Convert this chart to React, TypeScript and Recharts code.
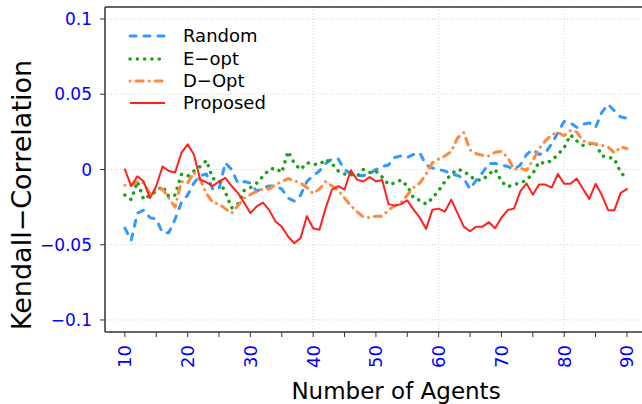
import { LineChart, Line, XAxis, YAxis, CartesianGrid, Legend, ReferenceLine, Label } from "recharts";

// number of agents (x) and the four correlation curves
const AGENTS = [
  10, 11, 12, 13, 14, 15, 16, 17, 18, 19,
  20, 21, 22, 23, 24, 25, 26, 27, 28, 29,
  30, 31, 32, 33, 34, 35, 36, 37, 38, 39,
  40, 41, 42, 43, 44, 45, 46, 47, 48, 49,
  50, 51, 52, 53, 54, 55, 56, 57, 58, 59,
  60, 61, 62, 63, 64, 65, 66, 67, 68, 69,
  70, 71, 72, 73, 74, 75, 76, 77, 78, 79,
  80, 81, 82, 83, 84, 85, 86, 87, 88, 89, 90,
];

const RANDOM = [
  -0.039, -0.047, -0.029, -0.027, -0.032, -0.033, -0.042, -0.042, -0.033, -0.022,
  -0.017, -0.009, -0.004, -0.003, -0.013, -0.013, 0.0045, 0, -0.009, -0.008,
  -0.009, -0.0145, -0.012, -0.011, -0.011, -0.013, -0.019, -0.021, -0.017, -0.008,
  -0.004, -0.001, 0.004, 0.007, 0.007, 0, -0.003, -0.004, -0.004, -0.003,
  0, 0.002, 0.003, 0.008, 0.009, 0.008, 0.01, 0.011, 0.003, 0.001,
  0, -0.001, -0.003, -0.004, -0.006, -0.013, -0.007, -0.002, 0.004, 0.004,
  0.003, 0.002, 0, 0.003, 0.01, 0.0133, 0.01, 0.011, 0.017, 0.0245,
  0.032, 0.031, 0.028, 0.03, 0.031, 0.028, 0.038, 0.0433, 0.039, 0.035, 0.034,
];

const E_OPT = [
  -0.017, -0.02, -0.008, -0.02, -0.017, -0.0145, -0.011, -0.018, -0.017, -0.0033,
  -0.0045, -0.001, 0.002, 0.006, -0.006, -0.007, -0.015, -0.0255, -0.023, -0.014,
  -0.012, -0.009, -0.0045, 0, 0.001, -0.002, 0.012, 0.004, 0, 0.0045,
  0.0035, 0.0033, 0.0067, 0.004, -0.001, -0.003, -0.0033, -0.0045, 0, -0.002,
  -0.001, -0.005, -0.01, -0.009, -0.007, -0.011, -0.019, -0.0205, -0.023, -0.019,
  -0.014, -0.008, -0.003, 0, -0.001, -0.0045, -0.007, -0.007, -0.003, 0,
  -0.008, -0.0115, -0.01, -0.009, -0.007, -0.0027, 0.005, 0.004, 0.006, 0.01,
  0.0145, 0.023, 0.019, 0.016, 0.017, 0.0178, 0.009, 0.0082, 0.0071, -0.002, -0.006,
];

const D_OPT = [
  -0.0105, -0.0105, -0.008, -0.009, -0.016, -0.013, -0.013, -0.019, -0.025, -0.008,
  -0.009, -0.002, -0.0067, -0.016, -0.022, -0.023, -0.026, -0.029, -0.024, -0.019,
  -0.0167, -0.0145, -0.013, -0.013, -0.01, -0.008, -0.006, -0.0075, -0.009, -0.012,
  -0.016, -0.013, -0.008, -0.011, -0.014, -0.019, -0.024, -0.028, -0.0315, -0.032,
  -0.031, -0.031, -0.027, -0.024, -0.022, -0.017, -0.012, -0.009, -0.003, 0.0045,
  0.007, 0.009, 0.012, 0.021, 0.0245, 0.013, 0.0105, 0.0095, 0.009, 0.0115,
  0.012, 0.008, 0, 0.001, -0.0005, 0.006, 0.014, 0.019, 0.0233, 0.0245,
  0.0225, 0.026, 0.025, 0.019, 0.0178, 0.017, 0.016, 0.015, 0.011, 0.015, 0.014,
];

const PROPOSED = [
  0, -0.011, -0.0045, -0.008, -0.019, -0.011, 0.002, -0.001, -0.002, 0.011,
  0.0167, 0.01, -0.0067, -0.0085, -0.011, -0.008, -0.0055, -0.011, -0.0155, -0.022,
  -0.029, -0.0245, -0.022, -0.027, -0.0345, -0.038, -0.0445, -0.049, -0.0455, -0.031,
  -0.039, -0.04, -0.0255, -0.0133, -0.011, -0.0133, -0.0005, -0.0067, -0.008, -0.005,
  -0.008, -0.007, -0.023, -0.024, -0.023, -0.0205, -0.0267, -0.032, -0.0395, -0.0267,
  -0.026, -0.028, -0.02, -0.029, -0.038, -0.041, -0.038, -0.038, -0.035, -0.039,
  -0.032, -0.027, -0.026, -0.0145, -0.0093, -0.0167, -0.01, -0.01, -0.012, -0.003,
  -0.0095, -0.0095, -0.006, -0.013, -0.0195, -0.0095, -0.017, -0.027, -0.027, -0.0155, -0.013,
];

const SERIES_NAMES = ["Random", "E\u2212opt", "D\u2212Opt", "Proposed"];
const X_TICKS = [10, 15, 20, 25, 30, 35, 40, 45, 50, 55, 60, 65, 70, 75, 80, 85, 90];
const Y_TICKS = [-0.1, -0.05, 0, 0.05, 0.1];
const X_GRID = [40, 60, 80];

const FONT = '"DejaVu Sans", sans-serif';
const TICK_BLUE = "#0000ff";
const AXIS = "#333";
const GRID = "#d4d4d4";

const SERIES = [
  { key: "random", color: "#3399ff", width: 3, dash: "6 8" },
  { key: "eopt", color: "#1ea01e", width: 3.5, dash: "0.1 7.2" },
  { key: "dopt", color: "#ff8a3d", width: 3, dash: "0.1 6 7 6" },
  { key: "proposed", color: "#ff2020", width: 2, dash: undefined as string | undefined },
];

const chartData = AGENTS.map((n, i) => ({
  agents: n,
  random: RANDOM[i],
  eopt: E_OPT[i],
  dopt: D_OPT[i],
  proposed: PROPOSED[i],
}));

const fmtY = (v: number) => (v === 0 ? "0" : v < 0 ? "\u2212" + String(-v) : String(v));

const AgentTick = (props: any) => {
  const { x, y, payload } = props;
  if (payload.value % 10 !== 0) return <g />;
  return (
    <text
      x={x}
      y={y}
      transform={`rotate(-90 ${x} ${y})`}
      textAnchor="end"
      dy="0.36em"
      fill={TICK_BLUE}
      fontSize={18}
      fontFamily={FONT}
    >
      {payload.value}
    </text>
  );
};

const renderLegend = () => (
  <div style={{ fontFamily: FONT, fontSize: 18, color: "#000" }}>
    {SERIES.map((s, i) => (
      <div key={s.key} style={{ display: "flex", alignItems: "center", height: 22.4 }}>
        <svg width={44} height={10} style={{ display: "block" }}>
          <line
            x1={5}
            y1={5}
            x2={40}
            y2={5}
            stroke={s.color}
            strokeWidth={s.width}
            strokeDasharray={s.dash}
            strokeLinecap={s.dash ? "round" : "butt"}
          />
        </svg>
        <span style={{ marginLeft: 14, lineHeight: "22px" }}>{SERIES_NAMES[i]}</span>
      </div>
    ))}
  </div>
);

export default function App() {
  return (
    <div style={{ position: "fixed", left: 0, top: 0, width: 642, height: 404, overflow: "hidden", background: "#fff" }}>
      <LineChart width={642} height={404} data={chartData} margin={{ top: 7, right: 0, bottom: 0, left: 0 }}>
        <CartesianGrid vertical={false} stroke={GRID} strokeDasharray="1 2" />
        {X_GRID.map((g) => (
          <ReferenceLine key={g} x={g} stroke={GRID} strokeDasharray="1 2" />
        ))}
        <ReferenceLine y={0.108} stroke={AXIS} strokeWidth={1.5} />
        <XAxis
          dataKey="agents"
          type="number"
          domain={[6.83, 92.4]}
          allowDataOverflow
          ticks={X_TICKS}
          interval={0}
          height={72}
          tickSize={5}
          tickMargin={8}
          axisLine={{ stroke: AXIS, strokeWidth: 1.5 }}
          tickLine={{ stroke: AXIS, strokeWidth: 1 }}
          tick={<AgentTick />}
        >
          <Label
            content={() => (
              <text x={396} y={399} textAnchor="middle" fontSize={23} fontFamily={FONT} fill="#000">
                Number of Agents
              </text>
            )}
          />
        </XAxis>
        <YAxis
          type="number"
          domain={[-0.108, 0.108]}
          allowDataOverflow
          ticks={Y_TICKS}
          interval={0}
          width={105}
          tickSize={5}
          tickMargin={8}
          tickFormatter={fmtY}
          axisLine={{ stroke: AXIS, strokeWidth: 1.5 }}
          tickLine={{ stroke: AXIS, strokeWidth: 1 }}
          tick={{ fill: TICK_BLUE, fontSize: 17, fontFamily: FONT }}
        >
          <Label
            content={() => (
              <text
                x={31}
                y={195}
                transform="rotate(-90 31 195)"
                textAnchor="middle"
                fontSize={27}
                fontFamily={FONT}
                fill="#000"
              >
                Kendall{"\u2212"}Correlation
              </text>
            )}
          />
        </YAxis>
        {SERIES.map((s, i) => (
          <Line
            key={s.key}
            dataKey={s.key}
            name={SERIES_NAMES[i]}
            type="linear"
            stroke={s.color}
            strokeWidth={s.width}
            strokeDasharray={s.dash}
            strokeLinecap="round"
            strokeLinejoin="round"
            dot={false}
            activeDot={false}
            isAnimationActive={false}
          />
        ))}
        <Legend
          layout="vertical"
          align="center"
          verticalAlign="middle"
          content={renderLegend}
          wrapperStyle={{ top: 25, left: 125, width: "auto", height: "auto" }}
        />
      </LineChart>
    </div>
  );
}
